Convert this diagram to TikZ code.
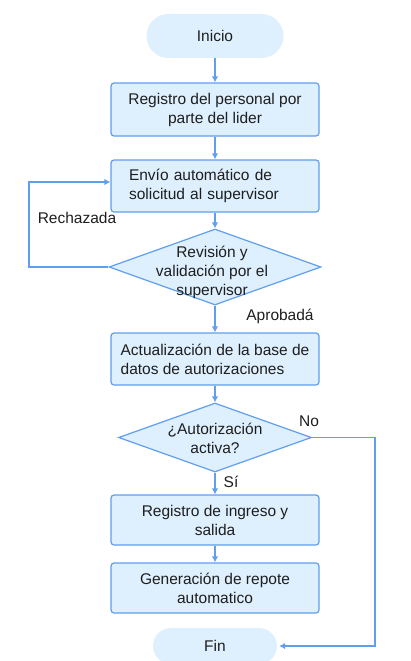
\documentclass[tikz,border=0pt]{standalone}
\usepackage{xcolor}
\usepackage{tikz}
\usepackage{fontspec}
\setmainfont{Liberation Sans}
\definecolor{flowblue}{RGB}{96, 158, 238}
\definecolor{flowfill}{RGB}{222, 239, 253}
\definecolor{flowtext}{RGB}{30, 30, 30}
\usetikzlibrary{shapes, arrows.meta, positioning, calc}

\begin{document}
\begin{tikzpicture}[
    x=1pt, y=-1pt,
    font=\fontsize{15.5}{19}\selectfont, text=flowtext,
    terminal/.style={rectangle, fill=flowfill, rounded corners=18pt, minimum height=36pt, inner sep=0pt},
    process/.style={rectangle, draw=flowblue, line width=1.2pt, fill=flowfill, rounded corners=3pt, minimum width=208pt, minimum height=52pt, align=center, inner sep=0pt},
    decision/.style={diamond, draw=flowblue, line width=1.2pt, fill=flowfill, inner sep=0pt},
    flow/.style={draw=flowblue, line width=1.2pt, -{Latex[length=6pt,width=6.5pt]}},
    tag/.style={inner sep=0pt}
]
    \useasboundingbox (0,0) rectangle (411,661);

    \node[terminal, minimum width=137pt, minimum height=44pt, rounded corners=22pt] (inicio) at (215, 36) {Inicio};
    \node[process, minimum height=53pt] (registro) at (215, 109.5) {Registro del personal por\\parte del lider};
    \node[process, text width=172pt, align=left] (envio) at (215, 186) {Envío automático de\\solicitud al supervisor};
    \node[decision, minimum width=212pt, minimum height=76pt] (revision) at (215, 267) {};
    \node[tag, align=center] (revisiontxt) at (212, 272) {Revisión y\\validación por el\\supervisor};
    \node[process, align=left] (actual) at (215, 359) {Actualización de la base de\\datos de autorizaciones};
    \node[decision, minimum width=193pt, minimum height=69pt] (autoriza) at (215, 437.5) {};
    \node[tag, align=center] (autorizatxt) at (215, 438) {¿Autorización\\activa?};
    \node[process, minimum height=50pt] (ingreso) at (215, 520) {Registro de ingreso y\\salida};
    \node[process, minimum height=50pt] (reporte) at (215, 588) {Generación de repote\\automatico};
    \node[terminal, minimum width=124pt] (fin) at (215, 646) {Fin};

    % bucles
    \coordinate (izq) at (29, 267);
    \coordinate (der) at (375, 437.5);

    \draw[flow] (inicio) -- (registro);
    \draw[flow] (registro) -- (envio);
    \draw[flow] (envio) -- (revision);
    \draw[flow] (revision) -- (actual);
    \draw[flow] (actual) -- (autoriza);
    \draw[flow] (autoriza) -- (ingreso);
    \draw[flow] (ingreso) -- (reporte);
    \draw[flow] (revision.west) -- (izq) |- ([yshift=4pt]envio.west);
    \draw[flow] (autoriza.east) -- (der) |- ([xshift=2pt]fin.east);

    \node[tag] (rechazada) at (77, 218) {Rechazada};
    \node[tag] (aprobada) at (280, 316) {Aprobadá};
    \node[tag] (no) at (309, 421) {No};
    \node[tag] (si) at (231, 482) {Sí};
\end{tikzpicture}
\end{document}
